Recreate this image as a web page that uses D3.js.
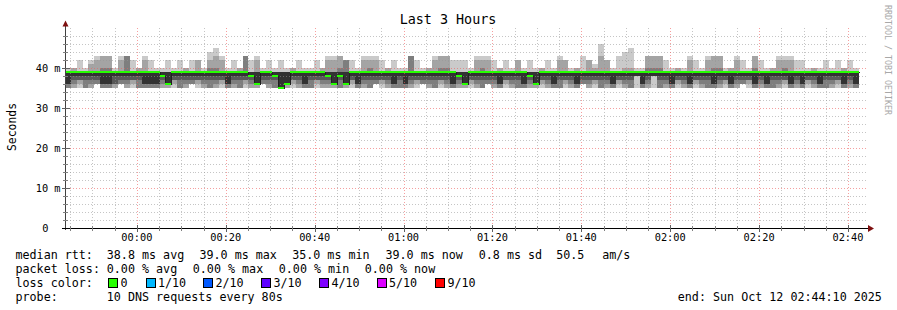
<!DOCTYPE html>
<html>
<head>
<meta charset="utf-8">
<script src="https://cdn.jsdelivr.net/npm/d3@7"></script>
<style>
  body { margin: 0; background: #fff; }
  svg text { font-family: "DejaVu Sans Mono", monospace; fill: #000; }
</style>
</head>
<body>
<div id="chart"></div>
<script>
// --- data ---
const titleText = "Last 3 Hours";
const yLabel = "Seconds";
const watermark = "RRDTOOL / TOBI OETIKER";
const startTime = Date.UTC(2025, 9, 11, 23, 44, 10);
const endTime = Date.UTC(2025, 9, 12, 2, 44, 10);
const firstStep = Date.UTC(2025, 9, 11, 23, 43, 46);
const stepSec = 80;
const yMax = 50;
const yMajorTicks = [0, 10, 20, 30, 40];

// median rtt per 80 s step (ms)
const medians = [
  39, 39, 39, 39, 39, 39, 39, 39, 39, 39,
  39, 39, 39, 39, 39, 39, 38, 36, 39, 39,
  39, 39, 39, 39, 39, 39, 39, 39, 39, 39,
  39, 38, 36, 39, 39, 38, 35, 36, 39, 39,
  39, 39, 39, 39, 38, 36, 38, 36, 39, 39,
  39, 39, 39, 39, 39, 39, 39, 39, 39, 39,
  39, 39, 39, 39, 39, 39, 38, 36, 39, 39,
  39, 39, 39, 39, 39, 39, 39, 39, 38, 36,
  39, 39, 39, 39, 39, 39, 39, 39, 39, 39,
  39, 39, 39, 39, 39, 39, 39, 39, 39, 39,
  39, 39, 39, 39, 39, 39, 39, 39, 39, 39,
  39, 39, 39, 39, 39, 39, 39, 39, 39, 39,
  39, 39, 39, 39, 39, 39, 39, 39, 39, 39,
  39, 39, 39, 39
];

// 10 sorted pings per step (ms)
const pings = [
  [35,35,35,36,36,39,39,39,39,40], [35,35,36,37,38,39,39,39,40,40], [35,36,37,37,38,39,39,39,39,42],
  [35,35,35,37,38,39,39,39,39,40], [35,35,36,37,38,39,39,39,41,42], [36,36,36,37,38,39,39,39,42,43],
  [35,35,35,36,36,39,39,40,43,43], [35,35,35,36,36,39,39,40,43,43], [35,35,36,36,38,39,39,39,39,40],
  [36,36,36,37,38,39,39,39,42,43], [35,35,36,37,38,39,39,43,43,43], [35,36,37,37,38,39,39,39,39,42],
  [35,35,35,37,38,39,39,39,40,40], [35,35,35,36,36,39,39,39,42,43], [35,35,35,36,36,39,39,39,39,42],
  [35,35,35,36,36,39,39,39,39,40], [35,35,36,37,38,39,39,39,39,40], [35,35,36,36,36,39,39,39,39,42],
  [35,36,37,37,38,39,39,39,39,40], [35,35,35,37,38,39,39,39,39,42], [35,35,36,37,38,39,39,39,40,40],
  [36,36,36,37,38,39,39,39,39,42], [35,36,37,37,38,39,39,39,42,42], [35,35,36,37,38,39,39,39,39,40],
  [35,35,35,37,38,39,39,40,42,44], [35,35,36,37,38,39,39,40,43,45], [35,36,37,37,38,39,39,39,42,43],
  [35,35,35,36,36,39,39,39,39,40], [35,35,36,37,38,39,39,39,39,42], [35,35,35,37,38,39,39,39,40,40],
  [35,36,37,37,38,39,39,43,43,43], [35,35,36,37,38,39,39,39,39,42], [35,35,36,36,36,39,39,39,42,43],
  [36,36,36,37,38,39,39,39,39,40], [35,35,36,37,38,39,39,39,39,42], [35,35,35,37,38,39,39,39,39,40],
  [35,35,35,35,35,39,39,39,39,42], [35,35,36,36,36,39,39,39,39,40], [35,36,37,37,38,39,39,39,40,40],
  [35,35,36,37,38,39,39,39,39,42], [35,35,35,36,36,39,39,39,39,40], [35,35,35,37,38,39,39,39,39,40],
  [35,36,37,37,38,39,39,39,39,42], [35,35,36,37,38,39,39,39,40,40], [35,35,36,37,38,39,39,39,42,43],
  [35,35,36,36,36,39,39,39,42,43], [35,35,35,37,38,39,39,40,43,43], [35,35,36,36,36,39,39,42,42,42],
  [35,36,37,37,38,39,39,39,39,42], [35,35,35,36,36,39,39,39,39,40], [35,35,36,37,38,39,39,39,42,43],
  [35,35,35,37,38,39,39,40,42,43], [36,36,36,37,38,39,39,39,42,43], [35,36,37,37,38,39,39,39,39,42],
  [35,35,36,37,38,39,39,39,40,40], [35,35,35,36,36,39,39,39,39,42], [35,35,35,37,38,39,39,39,39,40],
  [35,35,35,36,36,39,39,39,39,40], [35,35,36,37,38,39,39,43,43,43], [35,36,37,37,38,39,39,39,39,42],
  [36,36,36,37,38,39,39,39,39,40], [35,35,36,37,38,39,39,39,40,40], [35,35,35,37,38,39,39,39,42,43],
  [35,36,37,37,38,39,39,40,43,43], [35,35,36,37,38,39,39,40,43,43], [35,35,35,36,36,39,39,39,39,42],
  [35,35,36,37,38,39,39,39,39,42], [35,35,36,36,36,39,39,39,39,42], [35,36,37,37,38,39,39,39,39,40],
  [35,35,36,37,38,39,39,39,42,43], [35,35,35,37,38,39,39,40,42,43], [36,36,36,37,38,39,39,39,42,43],
  [35,35,36,37,38,39,39,39,39,42], [35,35,35,36,36,39,39,39,40,40], [35,36,37,37,38,39,39,39,39,42],
  [35,35,36,37,38,39,39,39,39,40], [35,35,35,37,38,39,39,39,42,42], [35,35,35,36,36,39,39,39,39,40],
  [35,35,36,37,38,39,39,39,39,42], [35,35,36,36,36,39,39,39,39,40], [35,36,37,37,38,39,39,39,40,40],
  [35,35,36,37,38,39,39,39,39,42], [35,35,35,36,36,39,39,39,39,40], [35,35,35,37,38,39,39,39,42,43],
  [35,36,37,37,38,39,39,39,42,42], [35,35,36,37,38,39,39,39,39,40], [35,35,35,36,36,39,39,39,40,40],
  [36,36,36,37,38,39,39,39,39,43], [35,35,36,37,38,39,39,39,42,42], [35,36,37,37,38,39,39,39,40,41],
  [35,35,35,37,38,39,39,39,43,46], [35,35,36,37,38,39,39,39,42,42], [35,35,35,36,36,39,39,39,39,40],
  [35,36,37,37,38,39,39,39,39,43], [35,35,36,37,38,39,39,39,40,44], [35,35,35,37,38,39,39,39,40,45],
  [35,38,38,38,38,39,39,39,39,40], [35,35,35,36,36,39,39,39,39,40], [35,35,36,37,38,39,39,40,43,43],
  [35,38,38,38,38,39,39,40,43,43], [35,35,35,37,38,39,39,40,43,43], [35,35,36,37,38,39,39,39,39,42],
  [35,35,35,36,36,39,39,39,39,40], [35,36,37,37,38,39,39,39,40,40], [35,35,36,37,38,39,39,39,39,40],
  [35,35,35,36,36,39,39,39,42,43], [35,36,37,37,38,39,39,39,39,42], [35,35,36,37,38,39,39,39,39,40],
  [35,35,35,37,38,39,39,39,42,43], [35,35,35,36,36,39,39,40,43,43], [35,35,36,37,38,39,39,40,43,43],
  [35,36,37,37,38,39,39,39,39,40], [35,35,35,36,36,39,39,39,40,40], [35,35,36,37,38,39,39,39,42,43],
  [36,36,36,37,38,39,39,39,39,42], [35,36,37,37,38,39,39,39,39,40], [35,35,35,36,36,39,39,40,43,43],
  [35,35,36,37,38,39,39,39,39,42], [35,35,35,36,36,39,39,39,39,40], [35,35,35,37,38,39,39,39,40,40],
  [35,35,36,37,38,39,39,39,42,43], [35,36,37,37,38,39,39,40,42,43], [35,35,35,36,36,39,39,39,42,43],
  [35,35,36,37,38,39,39,39,39,42], [35,35,35,36,36,39,39,39,39,42], [35,36,37,37,38,39,39,39,39,40],
  [35,35,36,37,38,39,39,39,40,40], [35,35,35,36,36,39,39,39,39,40], [35,35,35,37,38,39,39,39,39,42],
  [35,35,36,37,38,39,39,39,39,40], [35,36,37,37,38,39,39,39,39,42], [35,35,35,36,36,39,39,39,40,40],
  [35,35,36,37,38,39,39,39,39,42], [35,35,35,36,36,39,39,39,39,40]
];

const rttStats = ["38.8 ms avg", "39.0 ms max", "35.0 ms min", "39.0 ms now", "0.8 ms sd", "50.5", "am/s"];
const lossStats = ["0.00 % avg", "0.00 % max", "0.00 % min", "0.00 % now"];
const lossLabels = ["0", "1/10", "2/10", "3/10", "4/10", "5/10", "9/10"];
const lossColors = ["#26ff00", "#00b8ff", "#0059ff", "#5e00ff", "#7e00ff", "#dd00ff", "#ff0000"];
const probeText = "10 DNS requests every 80s";
const endText = "end: Sun Oct 12 02:44:10 2025";

// smoke shades, outer pair first (smokeping style)
const smokeGrays = ["#cacaca", "#a4a4a4", "#7e7e7e", "#585858", "#323232"];

// --- layout ---
const W = 897, H = 310;
const plot = { left: 66.5, right: 866.5, top: 28, bottom: 228 };

const svg = d3.select("#chart").append("svg")
    .attr("width", W).attr("height", H)
    .attr("viewBox", `0 0 ${W} ${H}`);

svg.append("rect").attr("width", W).attr("height", H).attr("fill", "#fff");

const x = d3.scaleUtc().domain([new Date(startTime), new Date(endTime)]).range([plot.left, plot.right]);
const y = d3.scaleLinear().domain([0, yMax]).range([plot.bottom, plot.top]);

svg.append("clipPath").attr("id", "plot-clip")
  .append("rect")
    .attr("x", 66).attr("y", plot.top)
    .attr("width", 801).attr("height", plot.bottom - plot.top);

// smoke
const stepTime = k => new Date(firstStep + k * stepSec * 1000);
const smoke = svg.append("g").attr("clip-path", "url(#plot-clip)").attr("shape-rendering", "crispEdges");
pings.forEach((p, k) => {
    const x0 = Math.round(x(stepTime(k)));
    const x1 = Math.round(x(stepTime(k + 1)));
    smokeGrays.forEach((c, i) => {
        const top = y(p[9 - i]), bot = y(p[i]);
        if (bot - top <= 0) return;
        smoke.append("rect")
            .attr("x", x0).attr("width", x1 - x0)
            .attr("y", top).attr("height", bot - top)
            .attr("fill", c);
    });
});

// grid (drawn over the smoke, like rrdtool)
const grid = svg.append("g").attr("shape-rendering", "crispEdges");
const minorY = d3.range(0, yMax + 0.1, 2).filter(v => v % 10 !== 0);
const majorY = yMajorTicks.filter(v => v > 0);
const minorX = x.ticks(d3.utcMinute.every(5)).filter(t => t.getUTCMinutes() % 20 !== 0);
const majorX = x.ticks(d3.utcMinute.every(20));

grid.selectAll(".hminor").data(minorY).enter().append("line")
    .attr("x1", plot.left).attr("x2", plot.right)
    .attr("y1", d => Math.round(y(d)) + 0.5).attr("y2", d => Math.round(y(d)) + 0.5)
    .attr("stroke", "rgba(150,150,150,0.55)").attr("stroke-dasharray", "1,2");
grid.selectAll(".vminor").data(minorX).enter().append("line")
    .attr("x1", d => Math.round(x(d)) + 0.5).attr("x2", d => Math.round(x(d)) + 0.5)
    .attr("y1", plot.top).attr("y2", plot.bottom)
    .attr("stroke", "rgba(150,150,150,0.55)").attr("stroke-dasharray", "1,2");
grid.selectAll(".hmajor").data(majorY).enter().append("line")
    .attr("x1", plot.left).attr("x2", plot.right)
    .attr("y1", d => Math.round(y(d)) + 0.5).attr("y2", d => Math.round(y(d)) + 0.5)
    .attr("stroke", "rgba(240,95,95,0.6)").attr("stroke-dasharray", "1,2");
grid.selectAll(".vmajor").data(majorX).enter().append("line")
    .attr("x1", d => Math.round(x(d)) + 0.5).attr("x2", d => Math.round(x(d)) + 0.5)
    .attr("y1", plot.top).attr("y2", plot.bottom)
    .attr("stroke", "rgba(240,95,95,0.6)").attr("stroke-dasharray", "1,2");

// median: thin dark step line, then loss-coloured band
const medPts = medians.map((m, k) => [x(stepTime(k)), y(m)]);
medPts.push([x(stepTime(medians.length)), y(medians[medians.length - 1])]);
const med = svg.append("g").attr("clip-path", "url(#plot-clip)");
med.append("path")
    .attr("d", d3.line().curve(d3.curveStepAfter)(medPts.map(p => [Math.round(p[0]) + 0.5, Math.round(p[1])])))
    .attr("fill", "none").attr("stroke", "#202020").attr("stroke-width", 1)
    .attr("shape-rendering", "crispEdges");
med.selectAll(".med").data(medians).enter().append("rect")
    .attr("x", (d, k) => Math.round(x(stepTime(k))))
    .attr("width", (d, k) => Math.round(x(stepTime(k + 1))) - Math.round(x(stepTime(k))))
    .attr("y", d => Math.round(y(d)) - 1).attr("height", 2)
    .attr("fill", lossColors[0]).attr("shape-rendering", "crispEdges");

// axes
const axis = svg.append("g").attr("shape-rendering", "crispEdges");
axis.append("line").attr("x1", 65.5).attr("x2", 65.5).attr("y1", plot.bottom + 2).attr("y2", 25)
    .attr("stroke", "#404040");
axis.append("line").attr("x1", 62).attr("x2", 869).attr("y1", plot.bottom + 0.5).attr("y2", plot.bottom + 0.5)
    .attr("stroke", "#000");
axis.selectAll(".ytm").data(minorY).enter().append("line")
    .attr("x1", 63).attr("x2", 68)
    .attr("y1", d => Math.round(y(d)) + 0.5).attr("y2", d => Math.round(y(d)) + 0.5)
    .attr("stroke", "#808080");
axis.selectAll(".ytM").data(majorY).enter().append("line")
    .attr("x1", 62).attr("x2", 70)
    .attr("y1", d => Math.round(y(d)) + 0.5).attr("y2", d => Math.round(y(d)) + 0.5)
    .attr("stroke", "#606060");
axis.selectAll(".xtm").data(minorX).enter().append("line")
    .attr("x1", d => Math.round(x(d)) + 0.5).attr("x2", d => Math.round(x(d)) + 0.5)
    .attr("y1", plot.bottom - 2).attr("y2", plot.bottom + 3)
    .attr("stroke", "#808080");
axis.selectAll(".xtM").data(majorX).enter().append("line")
    .attr("x1", d => Math.round(x(d)) + 0.5).attr("x2", d => Math.round(x(d)) + 0.5)
    .attr("y1", plot.bottom - 3).attr("y2", plot.bottom + 4)
    .attr("stroke", "#606060");

// arrows
svg.append("path").attr("d", "M62.5,26.5 L65.5,20.5 L68.5,26.5 Z").attr("fill", "#7f1010");
svg.append("path").attr("d", "M868,225 L874,228.5 L868,232 Z").attr("fill", "#7f1010");

// tick labels
svg.selectAll(".xl").data(majorX).enter().append("text")
    .attr("x", d => x(d)).attr("y", 241)
    .attr("text-anchor", "middle").attr("font-size", "10.3px")
    .text(d3.utcFormat("%H:%M"));
svg.selectAll(".yl").data(yMajorTicks).enter().append("text")
    .attr("x", d => d === 0 ? 48.5 : 60.5)
    .attr("y", d => y(d) + 3.7)
    .attr("text-anchor", "end").attr("font-size", "10.3px")
    .text(d => d === 0 ? "0" : `${d} m`);

// title, axis label, watermark
svg.append("text").attr("x", 448).attr("y", 24).attr("text-anchor", "middle")
    .attr("font-size", "13.4px").text(titleText);
svg.append("text").attr("transform", "translate(16,127) rotate(-90)")
    .attr("text-anchor", "middle").attr("font-size", "11.4px").text(yLabel);
svg.append("text").attr("transform", "translate(884.5,5) rotate(90)")
    .attr("font-size", "8.3px").style("fill", "#a8a8a8").text(watermark);

// legend
const legendFont = "11.7px";
const rowY = [258.5, 272.5, 286.5, 300.5];
const legend = svg.append("g").attr("font-size", legendFont);
const put = (tx, ty, s) => legend.append("text").attr("x", tx).attr("y", ty).text(s);

put(15.5, rowY[0], "median rtt:");
[106.8, 199.5, 292.2, 385.5, 478.8, 556.2, 602.2].forEach((px, i) => put(px, rowY[0], rttStats[i]));

put(15.5, rowY[1], "packet loss:");
[106.8, 192.8, 278.8, 364.8].forEach((px, i) => put(px, rowY[1], lossStats[i]));

put(15.5, rowY[2], "loss color:");
const swatchX = [108.5, 146, 203.5, 261.5, 319.5, 377, 435.5];
lossColors.forEach((c, i) => {
    legend.append("rect").attr("x", swatchX[i]).attr("y", 278.5)
        .attr("width", 9).attr("height", 9)
        .attr("fill", c).attr("stroke", "#000").attr("shape-rendering", "crispEdges");
    put(swatchX[i] + 12, rowY[2], lossLabels[i]);
});

put(15.5, rowY[3], "probe:");
put(106.8, rowY[3], probeText);
put(677.8, rowY[3], endText);
</script>
</body>
</html>
